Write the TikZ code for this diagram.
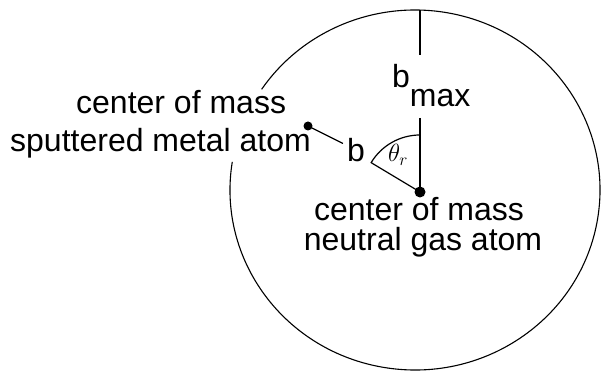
\documentclass[tikz,border=0pt]{standalone}
\usepackage{fontspec}
\setmainfont{Liberation Sans}
\usepackage{tikz}
\usetikzlibrary{positioning}
\tikzset{
    lbl/.style={font=\fontsize{32}{38}\selectfont, inner sep=0pt},
    atomdot/.style={circle, fill=black, inner sep=0pt},
    connector/.style={line width=1.2pt},
    boundary/.style={line width=1.1pt}
}

\begin{document}
\begin{tikzpicture}[x=1pt, y=1pt]
    \useasboundingbox (0,0) rectangle (603,374);
    \draw [boundary] (415,184) ++(171:185pt and 180pt) arc[start angle=171, end angle=506, x radius=185pt, y radius=180pt];

    \node (gas) [atomdot, minimum size=11pt] at (420,182) {};
    \node (metal) [atomdot, minimum size=9pt] at (308,248) {};
    \coordinate (rimtop) at (420,364);
    \coordinate (ticktop) at (420,319);
    \coordinate (vtop) at (420,256);

    \node (bmax) [lbl, anchor=base west] at (392,286) {b\raisebox{-19pt}{max}};
    \node (b) [lbl, inner sep=4pt] at (356,224) {b};
    \node (theta) [font=\fontsize{26}{30}\selectfont] at (398,219) {$\theta_r$};

    \node (cmmetal) [lbl, anchor=base west] at (76,260) {center of mass};
    \node (metaltxt) [lbl, anchor=base west] at (10,222) {sputtered metal atom};
    \node (cmgas) [lbl, anchor=base] at (419,153) {center of mass};
    \node (gastxt) [lbl, anchor=base] at (423,123) {neutral gas atom};

    \draw [connector] (rimtop) -- (ticktop);
    \draw [connector] (vtop) -- (gas.center);
    \draw [connector] (metal.center) -- (b);
    \draw [connector] (gas.center) -- ++(149:57pt) arc[start angle=149, end angle=90, radius=57pt];
\end{tikzpicture}
\end{document}
